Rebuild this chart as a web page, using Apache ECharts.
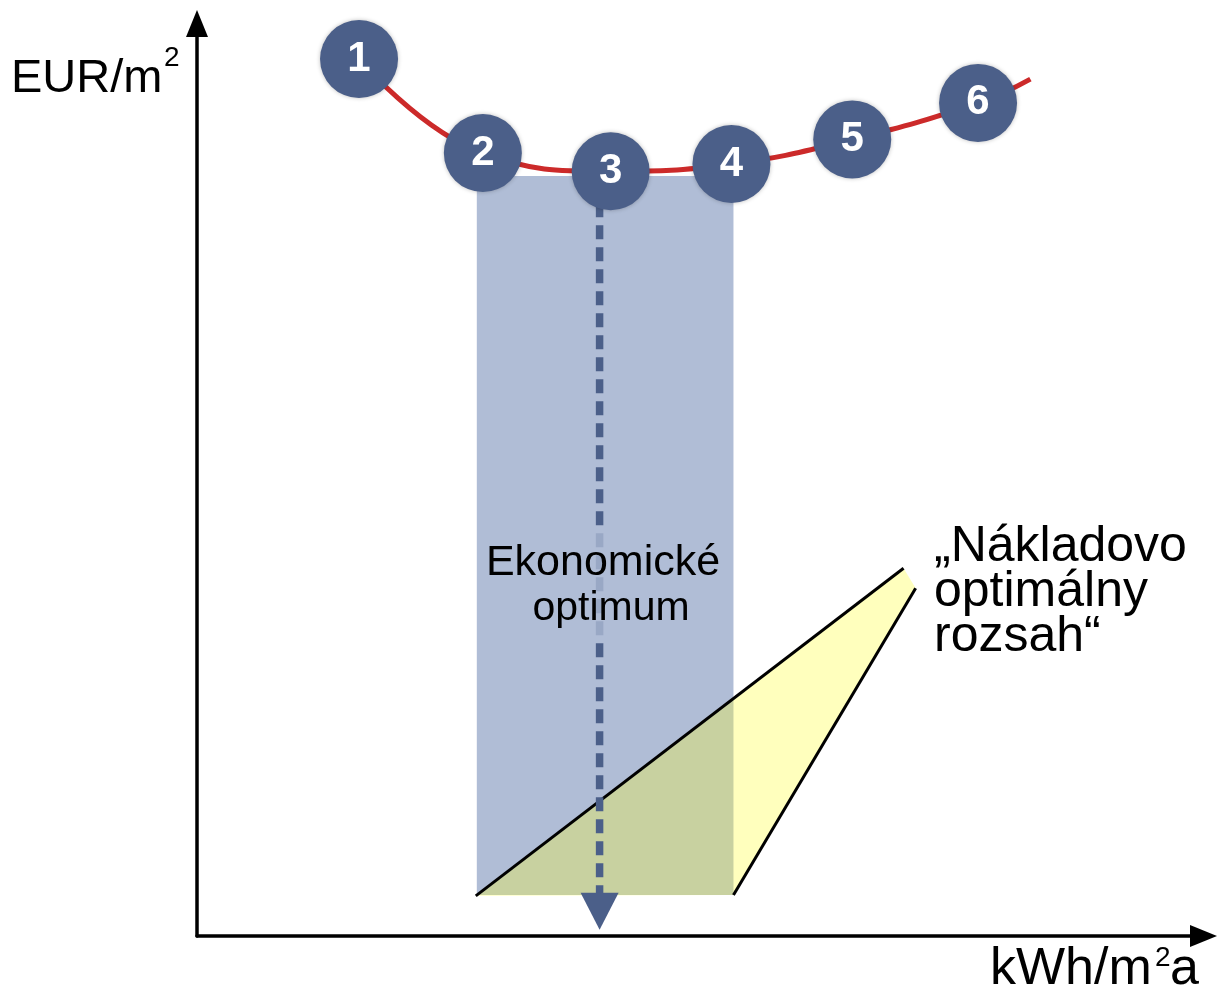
<!DOCTYPE html>
<html>
<head>
<meta charset="utf-8">
<script src="https://cdn.jsdelivr.net/npm/echarts@6/dist/echarts.min.js"></script>
<style>
  html, body { margin: 0; padding: 0; background: #ffffff; }
  #chart { width: 1219px; height: 999px; }
</style>
</head>
<body>
<div id="chart"></div>
<script>
// Numbered variants on the cost curve (x: energy need, y: cost; schematic units 0..100)
const variantLabels = ['1', '2', '3', '4', '5', '6'];
const variantX = [16.1, 28.4, 41.1, 53.1, 65.1, 77.6];
const variantY = [96.1, 85.8, 83.8, 84.6, 87.3, 91.3];
// where the curve runs out past the last variant
const curveTailX = 82.8;
const curveTailY = 93.9;

// Band of the economic optimum
const bandX = [27.8, 53.3];
const bandY = [4.5, 83.3];

// Dashed marker dropping from the optimum variant to the x axis
const optimumX = 40.0;
const optimumLineY = [80.3, 4.7];
const optimumArrowY = 2.7;

// Wedge of the cost-optimal range (corners in drawing order)
const wedgeX = [27.7, 70.2, 71.4, 53.3];
const wedgeY = [4.4, 40.3, 38.1, 4.5];

// Texts
const yAxisTitle = 'EUR/m';
const xAxisTitle = 'kWh/m';
const xAxisTitleTail = 'a';
const unitExponent = '2';
const optimumLine1 = 'Ekonomické';
const optimumLine2 = 'optimum';
const rangeText = '„Nákladovo\noptimálny\nrozsah“';

const FONT = '"Liberation Sans", Arial, Helvetica, sans-serif';
const DARK_BLUE = '#4b5f89';

const curveData = variantX.map((x, i) => [x, variantY[i]]).concat([[curveTailX, curveTailY]]);
const circleData = variantX.map((x, i) => ({ value: [x, variantY[i]], name: variantLabels[i] }));
const wedgeData = wedgeX.map((x, i) => [x, wedgeY[i]]);

const chart = echarts.init(document.getElementById('chart'), null, { renderer: 'canvas' });

const axisCommon = {
  type: 'value',
  min: 0,
  max: 100,
  axisLine: {
    show: true,
    onZero: false,
    symbol: ['none', 'triangle'],
    symbolSize: [22, 27],
    lineStyle: { color: '#000000', width: 3.5 }
  },
  axisTick: { show: false },
  axisLabel: { show: false },
  splitLine: { show: false }
};

function textEl(x, y, text, size, extra) {
  return {
    type: 'text', z: 50, x: x, y: y,
    style: Object.assign({
      text: text, font: size + 'px ' + FONT, fill: '#000',
      verticalAlign: 'middle', align: 'left'
    }, extra || {})
  };
}

chart.setOption({
  animation: false,
  backgroundColor: '#ffffff',
  grid: { left: 197, right: 15.5, top: 23.5, bottom: 63, containLabel: false, outerBoundsMode: 'none' },
  xAxis: axisCommon,
  yAxis: axisCommon,
  series: [
    {
      // shaded band
      type: 'custom',
      z: 1,
      data: [[bandX[0], bandY[0], bandX[1], bandY[1]]],
      renderItem: function (params, api) {
        const a = api.coord([api.value(0), api.value(3)]);
        const b = api.coord([api.value(2), api.value(1)]);
        return {
          type: 'rect',
          shape: { x: a[0], y: a[1], width: b[0] - a[0], height: b[1] - a[1] },
          style: { fill: '#b0bdd6' }
        };
      },
      silent: true
    },
    {
      // translucent wedge
      type: 'custom',
      z: 2,
      data: [0],
      renderItem: function (params, api) {
        const pts = wedgeData.map(p => api.coord(p));
        return {
          type: 'polygon',
          shape: { points: pts },
          style: { fill: 'rgba(255,255,38,0.3)' }
        };
      },
      silent: true
    },
    {
      type: 'line',
      z: 3,
      data: [wedgeData[0], wedgeData[1]],
      symbol: 'none',
      lineStyle: { color: '#000000', width: 3 },
      silent: true
    },
    {
      type: 'line',
      z: 3,
      data: [wedgeData[2], wedgeData[3]],
      symbol: 'none',
      lineStyle: { color: '#000000', width: 3 },
      silent: true
    },
    {
      // dashed drop line
      type: 'line',
      z: 4,
      data: [[optimumX, optimumLineY[0]], [optimumX, optimumLineY[1]]],
      symbol: 'none',
      lineStyle: { color: DARK_BLUE, width: 7.5, type: [14, 8] },
      silent: true
    },
    {
      type: 'scatter',
      z: 4,
      data: [[optimumX, optimumArrowY]],
      symbol: 'triangle',
      symbolRotate: 180,
      symbolSize: [38, 37],
      itemStyle: { color: DARK_BLUE, opacity: 1 },
      silent: true
    },
    {
      // cost curve
      type: 'line',
      z: 6,
      data: curveData,
      smooth: 0.45,
      symbol: 'none',
      lineStyle: { color: '#cc2a2a', width: 5 },
      silent: true
    },
    {
      type: 'scatter',
      z: 8,
      data: circleData,
      symbol: 'circle',
      symbolSize: 78,
      itemStyle: {
        color: DARK_BLUE,
        opacity: 1,
        shadowBlur: 4,
        shadowColor: 'rgba(0,0,0,0.25)'
      },
      label: {
        show: true,
        position: 'inside',
        formatter: '{b}',
        color: '#ffffff',
        fontFamily: FONT,
        fontWeight: 'bold',
        fontSize: 42
      },
      silent: true
    }
  ],
  graphic: [
    textEl(11, 79, yAxisTitle, 47),
    textEl(164, 58, unitExponent, 28),
    textEl(990, 970, xAxisTitle, 52),
    textEl(1155, 958, unitExponent, 28),
    textEl(1170, 970, xAxisTitleTail, 52),
    {
      // translucent box behind the optimum caption
      type: 'rect', z: 45,
      shape: { x: 483, y: 527, width: 240, height: 110 },
      style: { fill: 'rgba(176,189,214,0.78)' }
    },
    textEl(603, 563, optimumLine1, 43, { align: 'center' }),
    textEl(611, 609, optimumLine2, 41, { align: 'center' }),
    textEl(934, 525, rangeText, 50, { verticalAlign: 'top', lineHeight: 45 })
  ]
});
</script>
</body>
</html>
